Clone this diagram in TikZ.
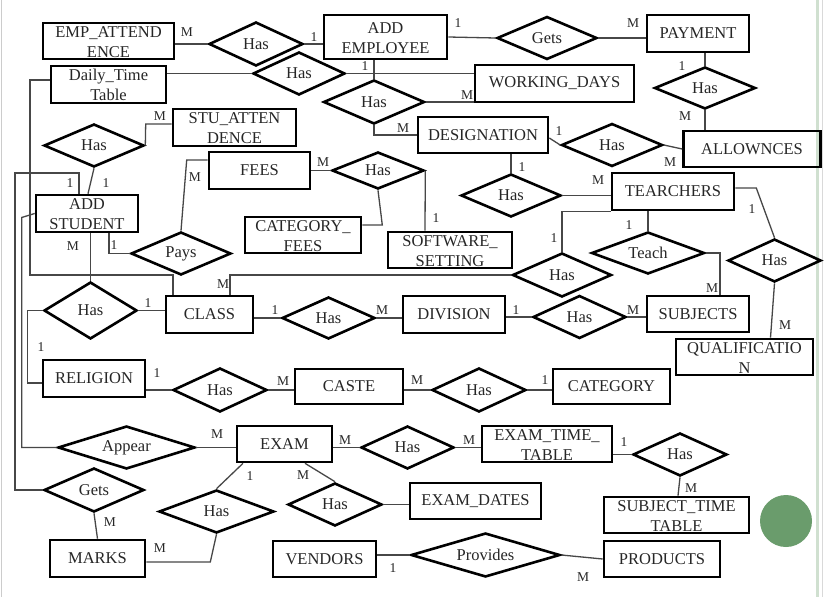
\documentclass[tikz,border=0pt]{standalone}
\usepackage{fontspec}
\setmainfont{Liberation Serif}
\usetikzlibrary{shapes.geometric,calc}
\newcommand{\twol}[2]{\raisebox{-6.8pt}[0pt][0pt]{\begin{tabular}{@{}c@{}}#1\\#2\end{tabular}}}
\definecolor{dotgreen}{RGB}{106,156,108}
\definecolor{edgegreen}{RGB}{208,224,208}
\tikzset{
  ent/.style={draw=black, line width=2.6pt, inner sep=0pt, text=black!85, font=\fontsize{16.5}{20}\selectfont},
  rel/.style={diamond, draw=black, line width=2.6pt, inner sep=0pt, aspect=2.5, text=black!85, font=\fontsize{16.5}{20}\selectfont},
  conn/.style={line width=1.3pt, draw=black!72},
  card/.style={inner sep=0pt, text=black!85, font=\fontsize{13.5}{15}\selectfont},
}
\begin{document}
\begin{tikzpicture}[x=1pt,y=-1pt]
\fill[white] (0,0) rectangle (825,597);
\useasboundingbox (0,0) rectangle (825,597);
\draw[line width=1pt, black!20] (1,0) -- (1,597);
\draw[line width=3pt, edgegreen] (817.5,0) -- (817.5,597);
\draw[line width=0.8pt, black!15] (822,0) -- (822,597);
\node[circle, fill=dotgreen, minimum size=52pt, inner sep=0pt] (dot) at (786,521) {};

% entities
\node[ent, minimum width=131pt, minimum height=36pt] (empatt) at (108.5,41) {\twol{EMP\_ATTEND}{ENCE}};
\node[ent, minimum width=115pt, minimum height=37pt] (daily) at (108.5,84.5) {\twol{Daily\_Time}{Table}};
\node[ent, minimum width=123pt, minimum height=44pt] (addemp) at (385.5,37) {\twol{ADD}{EMPLOYEE}};
\node[ent, minimum width=102pt, minimum height=37pt] (payment) at (698,33.5) {PAYMENT};
\node[ent, minimum width=159pt, minimum height=37pt] (working) at (554.5,83.5) {WORKING\_DAYS};
\node[ent, minimum width=130pt, minimum height=36pt] (design) at (483,135) {DESIGNATION};
\node[ent, minimum width=137pt, minimum height=36pt] (allow) at (752,149) {ALLOWNCES};
\node[ent, minimum width=123pt, minimum height=37pt] (stuatt) at (234.5,127.5) {\twol{STU\_ATTEN}{DENCE}};
\node[ent, minimum width=101pt, minimum height=37pt] (fees) at (259.5,170.5) {FEES};
\node[ent, minimum width=116pt, minimum height=36pt] (catfees) at (303,235) {\twol{CATEGORY\_}{FEES}};
\node[ent, minimum width=124pt, minimum height=36pt] (soft) at (450,250) {\twol{SOFTWARE\_}{SETTING}};
\node[ent, minimum width=122pt, minimum height=37pt] (teach) at (673,191.5) {TEARCHERS};
\node[ent, minimum width=102pt, minimum height=37pt] (addstu) at (87,213.5) {\twol{ADD}{STUDENT}};
\node[ent, minimum width=87pt, minimum height=37pt] (class) at (209.5,314.5) {CLASS};
\node[ent, minimum width=102pt, minimum height=37pt] (division) at (454,314.5) {DIVISION};
\node[ent, minimum width=102pt, minimum height=36pt] (subjects) at (698,314) {SUBJECTS};
\node[ent, minimum width=137pt, minimum height=36pt] (qual) at (744.5,357) {\twol{QUALIFICATIO}{N}};
\node[ent, minimum width=102pt, minimum height=37pt] (religion) at (94,378.5) {RELIGION};
\node[ent, minimum width=108pt, minimum height=35pt] (caste) at (349,386.5) {CASTE};
\node[ent, minimum width=117pt, minimum height=35pt] (category) at (611.5,386.5) {CATEGORY};
\node[ent, minimum width=95pt, minimum height=36pt] (exam) at (284.5,444) {EXAM};
\node[ent, minimum width=130pt, minimum height=36pt] (examtt) at (547,444) {\twol{EXAM\_TIME\_}{TABLE}};
\node[ent, minimum width=131pt, minimum height=36pt] (examdates) at (475.5,501) {EXAM\_DATES};
\node[ent, minimum width=145pt, minimum height=36pt] (subjtt) at (676.5,515) {\twol{SUBJECT\_TIME}{TABLE}};
\node[ent, minimum width=95pt, minimum height=37pt] (marks) at (97.5,558.5) {MARKS};
\node[ent, minimum width=103pt, minimum height=36pt] (vendors) at (324.5,559) {VENDORS};
\node[ent, minimum width=116pt, minimum height=36pt] (products) at (662,559) {PRODUCTS};

% relationships
\node[rel, minimum width=94pt, minimum height=44pt] (h1) at (256,44) {Has};
\node[rel, minimum width=92pt, minimum height=43pt] (h2) at (299,73.5) {Has};
\node[rel, minimum width=101pt, minimum height=44pt] (h3) at (374,102) {Has};
\node[rel, minimum width=100pt, minimum height=43pt] (gets1) at (547,38) {Gets};
\node[rel, minimum width=101pt, minimum height=42pt] (hpay) at (705,88) {Has};
\node[rel, minimum width=101pt, minimum height=43pt] (hda) at (612,145) {Has};
\node[rel, minimum width=100pt, minimum height=43pt] (hdt) at (511,195.5) {Has};
\node[rel, minimum width=99pt, minimum height=44pt] (htc) at (562,275) {Has};
\node[rel, minimum width=113pt, minimum height=42pt] (teachd) at (648,253) {Teach};
\node[rel, minimum width=93pt, minimum height=43pt] (htq) at (774.5,260.5) {Has};
\node[rel, minimum width=93pt, minimum height=43pt] (hds) at (579.5,317) {Has};
\node[rel, minimum width=93pt, minimum height=42pt] (hcd) at (328.5,318) {Has};
\node[rel, minimum width=93pt, minimum height=57pt] (hsc) at (90.5,310.5) {Has};
\node[rel, minimum width=100pt, minimum height=43pt] (pays) at (181,253.5) {Pays};
\node[rel, minimum width=100pt, minimum height=43pt] (hsa) at (94,145.5) {Has};
\node[rel, minimum width=92pt, minimum height=37pt] (hf) at (378,170.5) {Has};
\node[rel, minimum width=94pt, minimum height=44pt] (hrc) at (220,390) {Has};
\node[rel, minimum width=94pt, minimum height=44pt] (hcc) at (479,390) {Has};
\node[rel, minimum width=137pt, minimum height=43pt] (appear) at (126.5,447.5) {Appear};
\node[rel, minimum width=93pt, minimum height=43pt] (heet) at (407.5,447.5) {Has};
\node[rel, minimum width=94pt, minimum height=43pt] (heed) at (335,504.5) {Has};
\node[rel, minimum width=94pt, minimum height=43pt] (hetst) at (680,454.5) {Has};
\node[rel, minimum width=100pt, minimum height=44pt] (getsm) at (94,490) {Gets};
\node[rel, minimum width=115pt, minimum height=43pt] (hem) at (216.5,511.5) {Has};
\node[rel, minimum width=149pt, minimum height=44pt] (provides) at (485.5,555) {Provides};

\coordinate (k1) at (15,173);
\coordinate (k2) at (30,275);

% connectors
\draw[conn] (h1.west -| empatt.east) -- (h1.west);
\draw[conn] (h1.east) -- (h1.east -| addemp.west);
\draw[conn] (h2.west -| daily.east) -- (h2.west);
\draw[conn] (h2.east) -- (h2.east -| working.west);
\draw[conn] (h3.north |- addemp.south) -- (h3.north);
\draw[conn] (h3.east) -- (h3.east -| working.west);
\draw[conn] (h3.south) |- (design.west);
\draw[conn] (addemp.east) -- (gets1.west);
\draw[conn] (gets1.east) -- (gets1.east -| payment.west);
\draw[conn] (hpay.north |- payment.south) -- (hpay.north);
\draw[conn] (hpay.south) -- (hpay.south |- allow.north);
\draw[conn] ([yshift=-3pt]design.east) -- (hda.west);
\draw[conn] (hda.east) -- (allow.west);
\draw[conn] (hdt.north |- design.south) -- (hdt.north);
\draw[conn] (hdt.east) -- (hdt.east -| teach.west);
\draw[conn] (teachd.north |- teach.south) -- (teachd.north);
\draw[conn] (teach.south west) -| (htc.north);
\draw[conn] (htc.west) -| ([xshift=20.5pt]class.north);
\draw[conn] (teachd.east) -| ([xshift=22pt]subjects.north);
\draw[conn] ([yshift=3.5pt]teach.east) -- ++(21,0) -- (htq.north);
\draw[conn] (htq.south) -- ([xshift=26pt]qual.north);
\draw[conn] (hcd.west -| class.east) -- (hcd.west);
\draw[conn] (hcd.east) -- (hcd.east -| division.west);
\draw[conn] (hds.west -| division.east) -- (hds.west);
\draw[conn] (hds.east) -- (hds.east -| subjects.west);
\draw[conn] (hsc.north |- addstu.south) -- (hsc.north);
\draw[conn] (hsc.east) -- (hsc.east -| class.west);
\draw[conn] (hsc.west) -- ++(-15,0) |- ([yshift=-4.5pt]religion.west);
\draw[conn] (hrc.west -| religion.east) -- (hrc.west);
\draw[conn] (hrc.east) -- (hrc.east -| caste.west);
\draw[conn] (hcc.west -| caste.east) -- (hcc.west);
\draw[conn] (hcc.east) -- (hcc.east -| category.west);
\draw[conn] (appear.east -| exam.west) -- (appear.east);
\draw[conn] (appear.west) -| ([xshift=-13pt,yshift=-4pt]addstu.west) -- (addstu.west);
\draw[conn] (getsm.west) -| (k1) -| ([xshift=-8pt]addstu.north);
\draw[conn] ([yshift=4.5pt]daily.west) -| (k2) -| ([xshift=-36.5pt]class.north);
\draw[conn] (hsa.south) -- ([xshift=1pt]addstu.north);
\draw[conn] (hsa.east) -- ([xshift=-26pt,yshift=3.5pt]stuatt.west) -- ([yshift=3.5pt]stuatt.west);
\draw[conn] ([xshift=22pt]addstu.south) |- (pays.west);
\draw[conn] (pays.north) -- ([xshift=-21pt,yshift=10.5pt]fees.west) -- ([yshift=10.5pt]fees.west);
\draw[conn] (fees.east) -- (hf.west);
\draw[conn] (hf.south) -- ([xshift=20pt,yshift=10pt]catfees.east) -- ([yshift=10pt]catfees.east);
\draw[conn] (hf.east) -- ([xshift=-25pt]soft.north);
\draw[conn] (heet.west -| exam.east) -- (heet.west);
\draw[conn] (heet.east) -- (heet.east -| examtt.west);
\draw[conn] (hetst.west -| examtt.east) -- (hetst.west);
\draw[conn] (hetst.south) -- ([xshift=1.5pt]subjtt.north);
\draw[conn] ([xshift=20.5pt]exam.south) -- (heed.north);
\draw[conn] (heed.east) -- (heed.east -| examdates.west);
\draw[conn] ([xshift=-41.5pt]exam.south) -- (hem.north);
\draw[conn] (hem.south) -- ([xshift=64pt,yshift=-3.5pt]marks.east) -- ([yshift=-3.5pt]marks.east);
\draw[conn] (getsm.south) -- (marks.north);
\draw[conn] (provides.west -| vendors.east) -- (provides.west);
\draw[conn] (provides.east) -- (products.west);

% cardinalities
\node[card] (l1) at (187,32) {M};
\node[card] (l2) at (314,37) {1};
\node[card] (l3) at (365,66) {1};
\node[card] (l4) at (467,95) {M};
\node[card] (l5) at (403,128) {M};
\node[card] (l6) at (458,23) {1};
\node[card] (l7) at (633,23) {M};
\node[card] (l8) at (682,66) {1};
\node[card] (l9) at (685,116) {M};
\node[card] (l10) at (559,131) {1};
\node[card] (l11) at (670,162) {M};
\node[card] (l12) at (522,167) {1};
\node[card] (l13) at (598,180) {M};
\node[card] (l14) at (629,225) {1};
\node[card] (l15) at (554,238) {1};
\node[card] (l16) at (223,284) {M};
\node[card] (l17) at (712,288) {M};
\node[card] (l18) at (752,209) {1};
\node[card] (l19) at (785,325) {M};
\node[card] (l20) at (275,310) {1};
\node[card] (l21) at (382,310) {M};
\node[card] (l22) at (516,310) {1};
\node[card] (l23) at (633,310) {M};
\node[card] (l24) at (73,246) {M};
\node[card] (l25) at (148,303) {1};
\node[card] (l26) at (41,347) {1};
\node[card] (l27) at (157,373) {1};
\node[card] (l28) at (283,381) {M};
\node[card] (l29) at (417,380) {M};
\node[card] (l30) at (545,380) {1};
\node[card] (l31) at (217,434) {M};
\node[card] (l32) at (70,183) {1};
\node[card] (l33) at (106,183) {1};
\node[card] (l34) at (160,116) {M};
\node[card] (l35) at (114,245) {1};
\node[card] (l36) at (195,177) {M};
\node[card] (l37) at (323,162) {M};
\node[card] (l38) at (436,218) {1};
\node[card] (l39) at (345,440) {M};
\node[card] (l40) at (469,440) {M};
\node[card] (l41) at (624,442) {1};
\node[card] (l42) at (691,488) {M};
\node[card] (l43) at (303,475) {M};
\node[card] (l44) at (250,476) {1};
\node[card] (l45) at (160,548) {M};
\node[card] (l46) at (110,522) {M};
\node[card] (l47) at (393,568) {1};
\node[card] (l48) at (583,577) {M};
\end{tikzpicture}
\end{document}
